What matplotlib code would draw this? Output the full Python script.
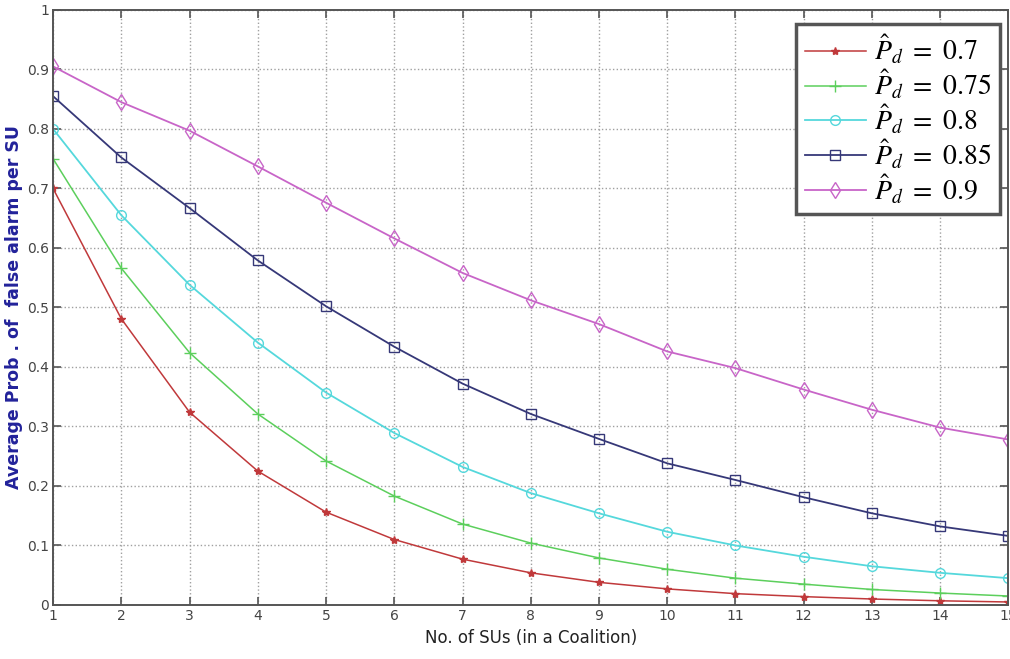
import numpy as np
import matplotlib
matplotlib.use('Agg')
import matplotlib.pyplot as plt

n_sus = list(range(1, 16))

pd_07 = [0.70, 0.481, 0.324, 0.225, 0.156, 0.110, 0.077, 0.054, 0.038, 0.027, 0.019, 0.014, 0.010, 0.007, 0.005]
pd_075 = [0.75, 0.566, 0.424, 0.321, 0.242, 0.183, 0.136, 0.104, 0.079, 0.060, 0.045, 0.035, 0.026, 0.020, 0.015]
pd_08 = [0.80, 0.655, 0.538, 0.441, 0.357, 0.289, 0.232, 0.188, 0.154, 0.123, 0.100, 0.081, 0.065, 0.054, 0.045]
pd_085 = [0.855, 0.752, 0.667, 0.579, 0.502, 0.434, 0.372, 0.321, 0.279, 0.238, 0.210, 0.181, 0.154, 0.132, 0.116]
pd_09 = [0.905, 0.845, 0.797, 0.737, 0.676, 0.616, 0.558, 0.512, 0.472, 0.426, 0.398, 0.362, 0.328, 0.298, 0.278]

labels = [r'$\hat{P}_d\ =\ 0.7$', r'$\hat{P}_d\ =\ 0.75$', r'$\hat{P}_d\ =\ 0.8$',
          r'$\hat{P}_d\ =\ 0.85$', r'$\hat{P}_d\ =\ 0.9$']

plt.rcParams['mathtext.fontset'] = 'stix'
plt.rcParams['font.family'] = ['Liberation Sans Narrow', 'DejaVu Sans']

fig = plt.figure(figsize=(10.1, 6.59), dpi=100)
ax = fig.add_axes([0.0525, 0.082, 0.946, 0.903])

ax.plot(n_sus, pd_07, color='#c0393b', marker='*', ms=6, lw=1.1, label=labels[0])
ax.plot(n_sus, pd_075, color='#5ccf5c', marker='+', ms=8, lw=1.1, label=labels[1])
ax.plot(n_sus, pd_08, color='#55d8dc', marker='o', ms=7, mfc='none', lw=1.3, label=labels[2])
ax.plot(n_sus, pd_085, color='#363878', marker='s', ms=7, mfc='none', lw=1.3, label=labels[3])
ax.plot(n_sus, pd_09, color='#c865c8', marker='d', ms=8, mfc='none', lw=1.3, label=labels[4])

ax.set_xlim(1, 15)
ax.set_ylim(0, 1)
ax.set_xticks(n_sus)
ax.set_yticks(np.arange(0, 1.01, 0.1))
ax.set_yticklabels(['0', '0.1', '0.2', '0.3', '0.4', '0.5', '0.6', '0.7', '0.8', '0.9', '1'])
ax.grid(True, linestyle=':', color='#a0a0a0', lw=1.0)
ax.tick_params(direction='in', top=True, right=True, length=6, width=1.2,
               colors='#555555', labelcolor='#444444', labelsize=10, pad=3)
for s in ax.spines.values():
    s.set_color('#555555')
    s.set_linewidth(1.4)

ax.set_xlabel('No. of SUs (in a Coalition)', fontsize=12, family='DejaVu Sans', color='#222222')
ax.set_ylabel('Average Prob . of  false alarm per SU', fontsize=12.5, family='DejaVu Sans',
              fontweight='bold', color='#22229a', labelpad=3)

leg = ax.legend(loc='upper right', bbox_to_anchor=(0.997, 0.985), fontsize=20,
                frameon=True, fancybox=False, handlelength=2.2, borderpad=0.3,
                labelspacing=0.05, handletextpad=0.3, borderaxespad=0.2)
leg.get_frame().set_edgecolor('#555555')
leg.get_frame().set_linewidth(2.5)
leg.get_frame().set_alpha(1)

fig.savefig('out.png', dpi=100)
